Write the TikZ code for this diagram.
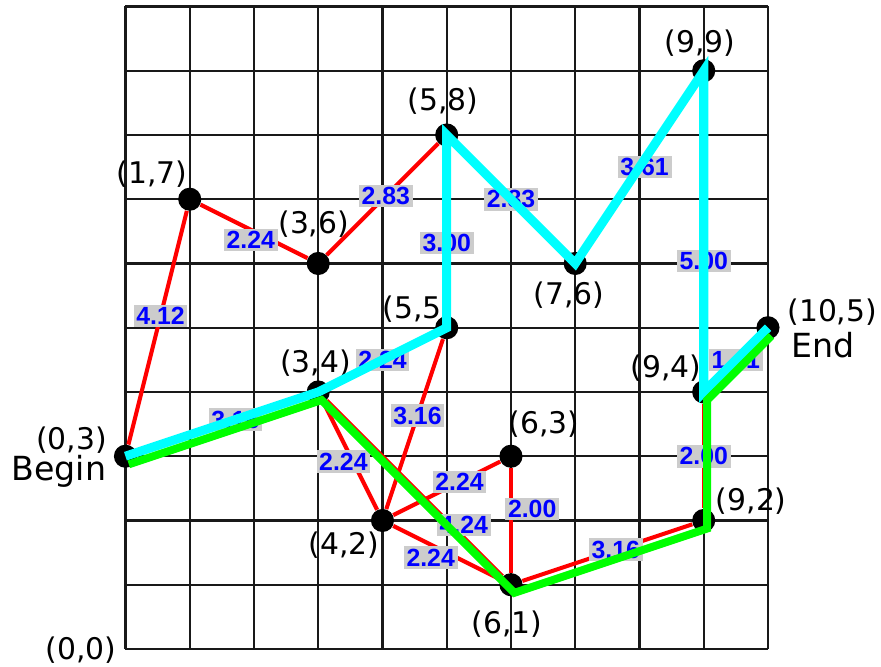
\documentclass[tikz,border=0pt]{standalone}
\usepackage{fontspec}
\setmainfont{DejaVu Sans}
\newfontfamily\weightfont{Liberation Sans}
\definecolor{wgray}{RGB}{204,204,204}
\definecolor{pathcyan}{RGB}{0,255,255}
\definecolor{pathgreen}{RGB}{0,255,0}
\tikzset{
  dot/.style={circle, fill=black, inner sep=0pt, minimum size=0.36cm},
  coordtxt/.style={font=\fontsize{13.2}{15}\selectfont, inner sep=0pt},
  endtxt/.style={font=\fontsize{14.7}{17}\selectfont, inner sep=0pt},
  redge/.style={red, line width=1.8pt},
  wlbl/.style={font=\weightfont\bfseries\fontsize{11}{13}\selectfont, text=blue, fill=wgray, inner xsep=1.2pt, inner ysep=1.1pt},
  cyanpath/.style={pathcyan, line width=4pt},
  greenpath/.style={pathgreen, line width=3.5pt},
}

\begin{document}
\begin{tikzpicture}
    \useasboundingbox (-1.953,-0.265) rectangle (11.759,10.101);
    \draw[line width=1pt, black!90] (0,0) grid (10,10);

    % vertices
    \node[dot] (p03)  at (0,3)  {};
    \node[dot] (p17)  at (1,7)  {};
    \node[dot] (p36)  at (3,6)  {};
    \node[dot] (p58)  at (5,8)  {};
    \node[dot] (p55)  at (5,5)  {};
    \node[dot] (p34)  at (3,4)  {};
    \node[dot] (p76)  at (7,6)  {};
    \node[dot] (p99)  at (9,9)  {};
    \node[dot] (p94)  at (9,4)  {};
    \node[dot] (p105) at (10,5) {};
    \node[dot] (p42)  at (4,2)  {};
    \node[dot] (p63)  at (6,3)  {};
    \node[dot] (p61)  at (6,1)  {};
    \node[dot] (p92)  at (9,2)  {};

    % coordinates
    \node[coordtxt] (t00)  at (-0.69,-0.02) {(0,0)};
    \node[coordtxt] (t03)  at (-0.84,3.25)  {(0,3)};
    \node[endtxt]   (tbeg) at (-1.035,2.77) {Begin};
    \node[coordtxt] (t17)  at (0.41,7.39)   {(1,7)};
    \node[coordtxt] (t36)  at (2.93,6.61)   {(3,6)};
    \node[coordtxt] (t58)  at (4.94,8.53)   {(5,8)};
    \node[coordtxt] (t99)  at (8.94,9.43)   {(9,9)};
    \node[coordtxt] (t55)  at (4.55,5.29)   {(5,5)};
    \node[coordtxt] (t34)  at (2.96,4.45)   {(3,4)};
    \node[coordtxt] (t76)  at (6.90,5.51)   {(7,6)};
    \node[coordtxt] (t63)  at (6.51,3.50)   {(6,3)};
    \node[coordtxt] (t105) at (11.0,5.25)   {(10,5)};
    \node[endtxt]   (tend) at (10.86,4.73)  {End};
    \node[coordtxt] (t94)  at (8.41,4.37)   {(9,4)};
    \node[coordtxt] (t92)  at (9.74,2.30)   {(9,2)};
    \node[coordtxt] (t42)  at (3.40,1.62)   {(4,2)};
    \node[coordtxt] (t61)  at (5.94,0.39)   {(6,1)};

    % edges
    \draw[redge] (p03) -- node[wlbl, pos=0.55] {4.12} (p17);
    \draw[redge] (p17) -- node[wlbl, pos=0.47, yshift=-0.16cm] {2.24} (p36);
    \draw[redge] (p36) -- node[wlbl, pos=0.53] {2.83} (p58);
    \draw[redge] (p58) -- node[wlbl, pos=0.57] {3.00} (p55);
    \draw[redge] (p58) -- node[wlbl] {2.83} (p76);
    \draw[redge] (p76) -- node[wlbl, xshift=0.08cm] {3.61} (p99);
    \draw[redge] (p99) -- node[wlbl, pos=0.6] {5.00} (p94);
    \draw[redge] (p94) -- node[wlbl] {1.41} (p105);
    \draw[redge] (p03) -- node[wlbl, pos=0.58] {3.16} (p34);
    \draw[redge] (p34) -- node[wlbl] {2.24} (p55);
    \draw[redge] (p55) -- node[wlbl, pos=0.45] {3.16} (p42);
    \draw[redge] (p34) -- node[wlbl, pos=0.55, xshift=-0.15cm] {2.24} (p42);
    \draw[redge] (p42) -- node[wlbl, pos=0.62] {2.24} (p63);
    \draw[redge] (p42) -- node[wlbl, pos=0.35, yshift=-0.2cm] {2.24} (p61);
    \draw[redge] (p63) -- node[wlbl, pos=0.39, xshift=0.33cm] {2.00} (p61);
    \draw[redge] (p34) -- node[wlbl, pos=0.78, yshift=0.2cm] {4.24} (p61);
    \draw[redge] (p61) -- node[wlbl, pos=0.55] {3.16} (p92);
    \draw[redge] (p92) -- node[wlbl] {2.00} (p94);

    % paths
    \draw[cyanpath] (p03.center) -- (p34.center) -- (p55.center) -- (p58.center)
        -- (p76.center) -- (p99.center) -- (p94.center) -- (p105.center);
    \draw[greenpath, transform canvas={xshift=1.5pt, yshift=-3.6pt}] (p03.center)
        -- (p34.center) -- (p61.center) -- (p92.center) -- (p94.center) -- (p105.center);
\end{tikzpicture}
\end{document}
